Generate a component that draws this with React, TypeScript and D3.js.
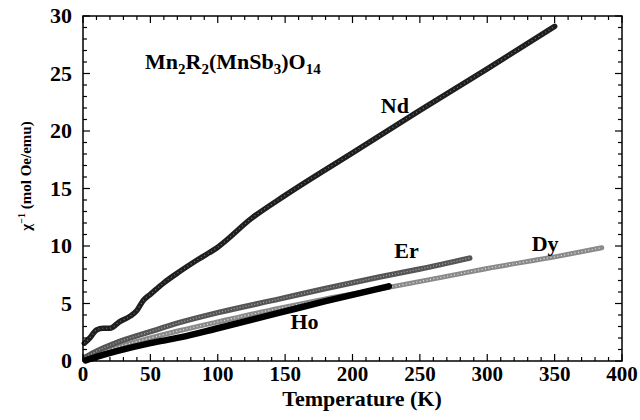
import React, { useRef, useEffect } from "react";
import * as d3 from "d3";

// temperature (K) / inverse susceptibility (mol Oe/emu)
const ndT = [1, 5, 10, 15, 20, 27, 35, 40, 45, 50, 60, 72, 85, 100, 125, 150, 200, 250, 300, 350];
const ndV = [1.55, 2.0, 2.7, 2.85, 2.85, 3.4, 3.9, 4.4, 5.3, 5.8, 6.8, 7.8, 8.8, 9.9, 12.4, 14.4, 18.1, 21.8, 25.4, 29.1];

const erT = [2, 10, 25, 50, 72, 100, 146, 180, 220, 250, 287];
const erV = [0.35, 0.85, 1.6, 2.55, 3.35, 4.2, 5.4, 6.3, 7.3, 8.0, 8.95];

const dyT = [2, 10, 25, 50, 72, 100, 146, 180, 220, 265, 300, 352, 385];
const dyV = [0.25, 0.6, 1.2, 2.0, 2.65, 3.4, 4.6, 5.4, 6.25, 7.25, 8.05, 9.1, 9.85];

const hoT = [2, 10, 25, 50, 72, 100, 146, 180, 227];
const hoV = [0.05, 0.35, 0.85, 1.55, 2.05, 2.85, 4.2, 5.2, 6.5];

const xTicks = [0, 50, 100, 150, 200, 250, 300, 350, 400];
const yTicks = [0, 5, 10, 15, 20, 25, 30];

const labels = [
  { name: "Nd", t: 221, v: 21.6 },
  { name: "Er", t: 231, v: 9.0 },
  { name: "Dy", t: 333, v: 9.6 },
  { name: "Ho", t: 154, v: 2.8 },
];

const font = "'Liberation Serif', 'Times New Roman', serif";

export default function App() {
  const svgRef = useRef<SVGSVGElement>(null);

  useEffect(() => {
    const svg = d3.select(svgRef.current);
    svg.selectAll("*").remove();

    const left = 83, right = 622, top = 16, bottom = 361;
    const x = d3.scaleLinear().domain([0, 400]).range([left, right]);
    const y = d3.scaleLinear().domain([0, 30]).range([bottom, top]);

    const g = svg.append("g");

    const line = d3.line<[number, number]>()
      .x(d => x(d[0]))
      .y(d => y(d[1]))
      .curve(d3.curveMonotoneX);

    const pts = (ts: number[], vs: number[]) => ts.map((t, i) => [t, vs[i]] as [number, number]);

    // series drawn as fat marker trails
    const series = [
      { d: pts(dyT, dyV), base: "#8a8a8a", w: 5, over: "#e8e8e8", dash: "1 2.5" },
      { d: pts(erT, erV), base: "#555", w: 5.5, over: "#aaa", dash: "1 2" },
      { d: pts(ndT, ndV), base: "#1e1e1e", w: 5.5, over: "#777", dash: "1 3" },
      { d: pts(hoT, hoV), base: "#000", w: 6.5, over: null, dash: "" },
    ];
    series.forEach(s => {
      g.append("path")
        .attr("d", line(s.d))
        .attr("fill", "none")
        .attr("stroke", s.base)
        .attr("stroke-width", s.w)
        .attr("stroke-linecap", "round");
      if (s.over) {
        g.append("path")
          .attr("d", line(s.d))
          .attr("fill", "none")
          .attr("stroke", s.over)
          .attr("stroke-width", 1.2)
          .attr("stroke-dasharray", s.dash);
      }
    });

    // frame
    g.append("rect")
      .attr("x", left).attr("y", top)
      .attr("width", right - left).attr("height", bottom - top)
      .attr("fill", "none").attr("stroke", "#000").attr("stroke-width", 1.5);

    // inward ticks on all four sides
    const ax = g.append("g").attr("stroke", "#000").attr("stroke-width", 1.2);
    d3.range(0, 401, 10).forEach(t => {
      const len = t % 50 === 0 ? 7 : 4;
      ax.append("line").attr("x1", x(t)).attr("x2", x(t)).attr("y1", bottom).attr("y2", bottom - len);
      ax.append("line").attr("x1", x(t)).attr("x2", x(t)).attr("y1", top).attr("y2", top + len);
    });
    d3.range(0, 31, 1).forEach(v => {
      const len = v % 5 === 0 ? 7 : 4;
      ax.append("line").attr("x1", left).attr("x2", left + len).attr("y1", y(v)).attr("y2", y(v));
      ax.append("line").attr("x1", right).attr("x2", right - len).attr("y1", y(v)).attr("y2", y(v));
    });

    const txt = g.append("g")
      .attr("font-family", font)
      .attr("font-weight", "bold")
      .attr("fill", "#000");

    xTicks.forEach(t => {
      txt.append("text")
        .attr("x", x(t)).attr("y", bottom + 20)
        .attr("text-anchor", "middle")
        .attr("font-size", 21)
        .text(t);
    });
    yTicks.forEach(v => {
      txt.append("text")
        .attr("x", left - 11).attr("y", y(v) + 7)
        .attr("text-anchor", "end")
        .attr("font-size", 22)
        .text(v);
    });

    txt.append("text")
      .attr("x", 362).attr("y", 406)
      .attr("text-anchor", "middle")
      .attr("font-size", 22)
      .text("Temperature (K)");

    const yl = txt.append("text")
      .attr("transform", "translate(31,176) rotate(-90)")
      .attr("text-anchor", "middle")
      .attr("font-size", 15);
    yl.append("tspan").text("\u03c7");
    yl.append("tspan").attr("dy", -6).attr("font-size", 10).text("\u22121");
    yl.append("tspan").attr("dy", 6).text(" (mol Oe/emu)");

    const f = txt.append("text").attr("x", 145).attr("y", 69).attr("font-size", 22);
    const parts: [string, boolean][] = [["Mn", false], ["2", true], ["R", false], ["2", true], ["(MnSb", false], ["3", true], [")O", false], ["14", true]];
    parts.forEach(([s, sub]) => {
      f.append("tspan")
        .attr("font-size", sub ? 15 : 22)
        .attr("baseline-shift", sub ? "-30%" : null)
        .text(s);
    });

    labels.forEach(l => {
      txt.append("text")
        .attr("x", x(l.t)).attr("y", y(l.v))
        .attr("font-size", 22)
        .text(l.name);
    });
  }, []);

  return (
    <svg ref={svgRef} width={640} height={420}
      style={{ position: "absolute", left: 0, top: 0, background: "#fff" }} />
  );
}
